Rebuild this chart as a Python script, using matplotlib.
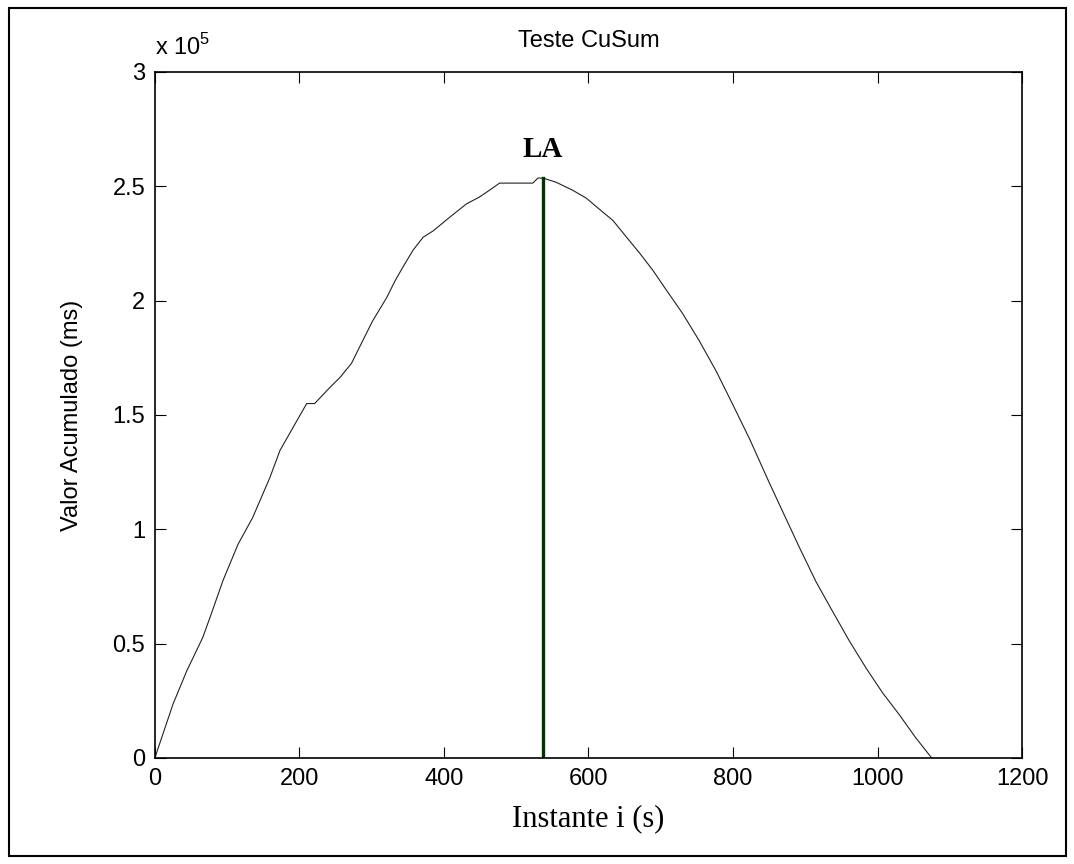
import matplotlib
matplotlib.use("Agg")
import matplotlib.pyplot as plt
from matplotlib.patches import Rectangle
from matplotlib.ticker import FuncFormatter

# CuSum curve (x in s, y in ms)
t_s = [0, 3, 25, 44, 66, 76, 94, 115, 135, 159, 173, 191, 210, 221, 242, 256,
       272, 283, 301, 321, 332, 343, 357, 371, 385, 408, 431, 449, 463, 477,
       523, 530, 537, 555, 578, 597, 615, 634, 652, 671, 689, 708, 730, 753,
       777, 799, 823, 850, 892, 915, 938, 961, 984, 1007, 1030, 1053, 1075]
cusum = [0, 3000, 23600, 38100, 52600, 61300, 77500, 93500, 105000, 122600,
         134500, 144500, 155000, 155000, 162000, 166400, 172600, 179600,
         191000, 201500, 208500, 214600, 222000, 227700, 230500, 236500,
         242300, 245300, 248300, 251400, 251400, 253600, 253600, 251800,
         248300, 244800, 240000, 235000, 228000, 220700, 213300, 204500,
         194500, 182600, 169000, 155000, 139500, 120500, 92000, 77000, 64000,
         51200, 39400, 28500, 19000, 8800, 0]
la_x = 537
la_top = 253600

xticks = [0, 200, 400, 600, 800, 1000, 1200]
yticks = [0, 50000, 100000, 150000, 200000, 250000, 300000]

plt.rcParams["font.family"] = ["Liberation Sans", "DejaVu Sans"]
plt.rcParams["mathtext.fontset"] = "custom"
plt.rcParams["mathtext.rm"] = "Liberation Sans"

fig = plt.figure(figsize=(10.74, 8.64), dpi=100)
ax = fig.add_axes([0.1443, 0.1227, 0.8073, 0.794])

ax.plot(t_s, cusum, color="#222222", lw=0.8)
ax.plot([la_x, la_x], [0, la_top], color="#003300", lw=2.4)
ax.text(la_x, 263000, "LA", ha="center", va="baseline",
        family="Liberation Serif", fontweight="bold", fontsize=21)

ax.set_xlim(0, 1200)
ax.set_ylim(0, 300000)
ax.set_xticks(xticks)
ax.set_yticks(yticks)
ax.yaxis.set_major_formatter(FuncFormatter(lambda v, p: f"{v / 1e5:g}"))
ax.tick_params(direction="in", length=8, width=0.8, labelsize=17, pad=7,
               top=True, right=True)
for s in ax.spines.values():
    s.set_linewidth(1.2)

ax.text(0.0, 1.018, r"x 10$^{5}$", transform=ax.transAxes, ha="left",
        va="bottom", fontsize=17)
ax.set_title("Teste CuSum", fontsize=17, pad=18)
ax.set_xlabel("Instante i (s)", family="Liberation Serif", fontsize=22)
ax.set_ylabel("Valor Acumulado (ms)", fontsize=17)
ax.xaxis.set_label_coords(0.5, -0.068)
ax.yaxis.set_label_coords(-0.083, 0.5)

fig.add_artist(Rectangle((9 / 1074, 8 / 864), 1057 / 1074, 848 / 864,
                         transform=fig.transFigure, fill=False,
                         edgecolor="black", lw=1.5))

fig.savefig("out.png", dpi=100)
